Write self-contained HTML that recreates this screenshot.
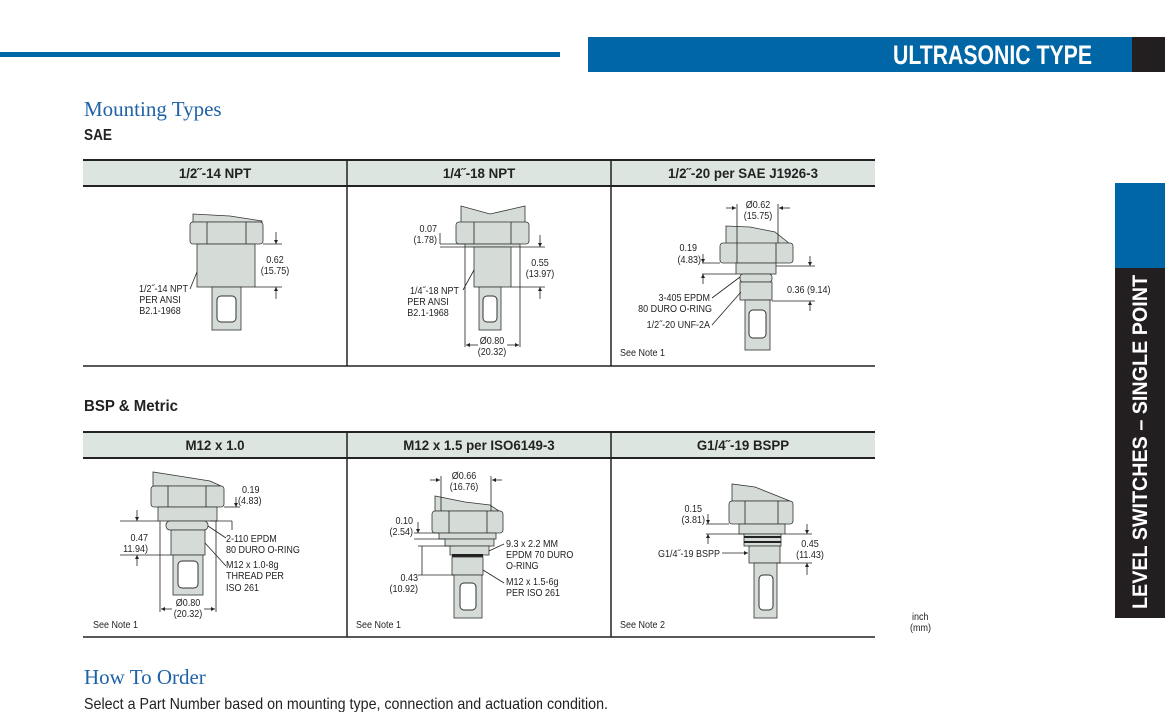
<!DOCTYPE html>
<html><head><meta charset="utf-8"><style>
html,body{margin:0;padding:0;background:#fff;width:1165px;height:712px;overflow:hidden}
svg{display:block}
.n{font-family:"Liberation Sans Narrow","Liberation Sans",sans-serif}
.s{font-family:"Liberation Sans Narrow","Liberation Sans",sans-serif;font-size:10px;fill:#222}
.h{font-family:"Liberation Sans Narrow","Liberation Sans",sans-serif;font-size:14px;font-weight:bold;fill:#222}
.s,.h{transform-box:fill-box;transform-origin:left center;transform:scaleX(.9)}
.h{transform:scaleX(.95)}
text[text-anchor="end"]{transform-origin:right center}
text[text-anchor="middle"]{transform-origin:center center}
.p{fill:#d5dbd7;stroke:#333;stroke-width:0.8}
.l{stroke:#222;stroke-width:0.8;fill:none}
</style></head><body>
<svg width="1165" height="712" viewBox="0 0 1165 712" xmlns="http://www.w3.org/2000/svg">
<defs><marker id="a" viewBox="0 0 6 6" refX="6" refY="3" markerWidth="5" markerHeight="5" orient="auto"><path d="M0,0L6,3L0,6z" fill="#222"/></marker></defs>
<!-- header -->
<rect x="0" y="52" width="560" height="5" fill="#0066a6"/>
<rect x="588" y="37" width="545" height="35" fill="#0066a6"/>
<rect x="1132" y="37" width="33" height="35" fill="#231f20"/>
<text x="893" y="64" class="n" font-size="27" font-weight="bold" fill="#fff" textLength="199" lengthAdjust="spacingAndGlyphs">ULTRASONIC TYPE</text>
<!-- side tab -->
<rect x="1115" y="183" width="50" height="85" fill="#0066a6"/>
<rect x="1115" y="268" width="50" height="350" fill="#231f20"/>
<text transform="translate(1140,609) rotate(-90)" class="n" font-size="21" font-weight="bold" fill="#fff" dy="7" textLength="334" lengthAdjust="spacingAndGlyphs">LEVEL SWITCHES – SINGLE POINT</text>
<!-- titles -->
<text x="84" y="116" font-family="Liberation Serif,serif" font-size="21" fill="#1f62a8">Mounting Types</text>
<text x="84" y="140" class="n" font-size="16" font-weight="bold" fill="#222" textLength="28" lengthAdjust="spacingAndGlyphs">SAE</text>
<text x="84" y="411" class="n" font-size="16" font-weight="bold" fill="#222" textLength="94" lengthAdjust="spacingAndGlyphs">BSP &amp; Metric</text>
<text x="84" y="684" font-family="Liberation Serif,serif" font-size="21" fill="#1f62a8">How To Order</text>
<text x="84" y="709" class="n" font-size="16" fill="#222" textLength="524" lengthAdjust="spacingAndGlyphs">Select a Part Number based on mounting type, connection and actuation condition.</text>
<text x="912" y="620" class="s" font-size="9">inch</text>
<text x="910" y="631" class="s" font-size="9">(mm)</text>
<!-- table 1 -->
<rect x="83" y="160" width="792" height="26" fill="#dde5e0"/>
<line x1="83" y1="160" x2="875" y2="160" stroke="#222" stroke-width="2"/>
<line x1="83" y1="186" x2="875" y2="186" stroke="#222" stroke-width="2"/>
<line x1="83" y1="366" x2="875" y2="366" stroke="#222" stroke-width="1.5"/>
<line x1="347" y1="160" x2="347" y2="366" stroke="#222" stroke-width="1.5"/>
<line x1="611" y1="160" x2="611" y2="366" stroke="#222" stroke-width="1.5"/>
<text x="215" y="178" text-anchor="middle" class="h">1/2˝-14 NPT</text>
<text x="479" y="178" text-anchor="middle" class="h">1/4˝-18 NPT</text>
<text x="743" y="178" text-anchor="middle" class="h">1/2˝-20 per SAE J1926-3</text>
<!-- table 2 -->
<rect x="83" y="432" width="792" height="26" fill="#dde5e0"/>
<line x1="83" y1="432" x2="875" y2="432" stroke="#222" stroke-width="2"/>
<line x1="83" y1="458" x2="875" y2="458" stroke="#222" stroke-width="2"/>
<line x1="83" y1="637" x2="875" y2="637" stroke="#222" stroke-width="1.5"/>
<line x1="347" y1="432" x2="347" y2="637" stroke="#222" stroke-width="1.5"/>
<line x1="611" y1="432" x2="611" y2="637" stroke="#222" stroke-width="1.5"/>
<text x="215" y="450" text-anchor="middle" class="h">M12 x 1.0</text>
<text x="479" y="450" text-anchor="middle" class="h">M12 x 1.5 per ISO6149-3</text>
<text x="743" y="450" text-anchor="middle" class="h">G1/4˝-19 BSPP</text>

<!-- cell 1 -->
<path class="p" d="M193,222 L193,214 L230,216 L262,221 L262,222z"/>
<rect class="p" x="190" y="222" width="73" height="22" rx="3"/>
<line class="l" x1="207" y1="222" x2="207" y2="244"/><line class="l" x1="246" y1="222" x2="246" y2="244"/>
<rect class="p" x="197" y="244" width="58" height="43"/>
<rect class="p" x="212" y="287" width="29" height="43"/>
<rect x="217" y="296" width="19" height="26" rx="4" fill="#fff" stroke="#333"/>
<line class="l" x1="263" y1="244" x2="282" y2="244"/><line class="l" x1="255" y1="287" x2="282" y2="287"/>
<line class="l" x1="276" y1="232" x2="276" y2="244" marker-end="url(#a)"/><line class="l" x1="276" y1="299" x2="276" y2="287" marker-end="url(#a)"/>
<text x="275" y="263" text-anchor="middle" class="s">0.62</text><text x="275" y="274" text-anchor="middle" class="s">(15.75)</text>
<text x="188" y="292" text-anchor="end" class="s">1/2˝-14 NPT</text>
<text x="160" y="303" text-anchor="middle" class="s">PER ANSI</text><text x="160" y="314" text-anchor="middle" class="s">B2.1-1968</text>
<line class="l" x1="190" y1="289" x2="197" y2="272"/>

<!-- cell 2 -->
<path class="p" d="M461,223 L461,206 L490,214 L525,206 L525,223z"/>
<rect class="p" x="456" y="222" width="73" height="22" rx="3"/>
<line class="l" x1="474" y1="222" x2="474" y2="244"/><line class="l" x1="511" y1="222" x2="511" y2="244"/>
<rect class="p" x="465" y="244" width="55" height="3"/>
<rect class="p" x="474" y="247" width="37" height="40"/>
<rect class="p" x="479" y="287" width="22" height="43"/>
<rect x="483" y="296" width="14" height="26" rx="4" fill="#fff" stroke="#333"/>
<line class="l" x1="440" y1="244" x2="465" y2="244"/><line class="l" x1="440" y1="247" x2="465" y2="247"/>
<line class="l" x1="440" y1="233" x2="440" y2="244"/>
<text x="437" y="232" text-anchor="end" class="s">0.07</text><text x="437" y="243" text-anchor="end" class="s">(1.78)</text>
<line class="l" x1="520" y1="247" x2="545" y2="247"/><line class="l" x1="511" y1="287" x2="545" y2="287"/>
<line class="l" x1="540" y1="235" x2="540" y2="247" marker-end="url(#a)"/><line class="l" x1="540" y1="299" x2="540" y2="287" marker-end="url(#a)"/>
<text x="540" y="266" text-anchor="middle" class="s">0.55</text><text x="540" y="277" text-anchor="middle" class="s">(13.97)</text>
<text x="459" y="294" text-anchor="end" class="s">1/4˝-18 NPT</text>
<text x="428" y="305" text-anchor="middle" class="s">PER ANSI</text><text x="428" y="316" text-anchor="middle" class="s">B2.1-1968</text>
<line class="l" x1="463" y1="290" x2="474" y2="270"/>
<line class="l" x1="465" y1="247" x2="465" y2="347"/><line class="l" x1="520" y1="247" x2="520" y2="347"/>
<line class="l" x1="478" y1="345" x2="466" y2="345" marker-end="url(#a)"/><line class="l" x1="507" y1="345" x2="519" y2="345" marker-end="url(#a)"/>
<text x="492" y="344" text-anchor="middle" class="s">Ø0.80</text><text x="492" y="355" text-anchor="middle" class="s">(20.32)</text>

<!-- cell 3 -->
<path class="p" d="M726,244 L726,226 L750,227 L775,232 L790,244z"/>
<rect class="p" x="720" y="243" width="73" height="20" rx="3"/>
<line class="l" x1="737" y1="243" x2="737" y2="263"/><line class="l" x1="776" y1="243" x2="776" y2="263"/>
<rect class="p" x="736" y="263" width="40" height="11"/>
<rect class="p" x="740" y="274" width="32" height="8" rx="3"/>
<rect class="p" x="740" y="282" width="32" height="18"/>
<rect class="p" x="745" y="300" width="25" height="50"/>
<rect x="749" y="310" width="17" height="28" rx="4" fill="#fff" stroke="#333"/>
<line class="l" x1="737" y1="204" x2="737" y2="243"/><line class="l" x1="778" y1="204" x2="778" y2="243"/>
<line class="l" x1="726" y1="208" x2="736" y2="208" marker-end="url(#a)"/><line class="l" x1="790" y1="208" x2="779" y2="208" marker-end="url(#a)"/>
<text x="758" y="208" text-anchor="middle" class="s">Ø0.62</text><text x="758" y="219" text-anchor="middle" class="s">(15.75)</text>
<text x="697" y="251" text-anchor="end" class="s">0.19</text><text x="701" y="263" text-anchor="end" class="s">(4.83)</text>
<line class="l" x1="702" y1="263" x2="720" y2="263"/><line class="l" x1="702" y1="274" x2="736" y2="274"/>
<line class="l" x1="703" y1="254" x2="703" y2="263" marker-end="url(#a)"/><line class="l" x1="703" y1="284" x2="703" y2="274" marker-end="url(#a)"/>
<line class="l" x1="776" y1="266" x2="815" y2="266"/><line class="l" x1="772" y1="301" x2="815" y2="301"/>
<line class="l" x1="810" y1="256" x2="810" y2="266" marker-end="url(#a)"/><line class="l" x1="810" y1="311" x2="810" y2="301" marker-end="url(#a)"/>
<text x="787" y="293" class="s">0.36 (9.14)</text>
<text x="710" y="301" text-anchor="end" class="s">3-405 EPDM</text><text x="712" y="312" text-anchor="end" class="s">80 DURO O-RING</text>
<text x="710" y="328" text-anchor="end" class="s">1/2˝-20 UNF-2A</text>
<line class="l" x1="712" y1="298" x2="740" y2="277"/><line class="l" x1="712" y1="325" x2="741" y2="292"/>
<text x="620" y="356" class="s" font-size="11">See Note 1</text>

<!-- row2 cell1 -->
<path class="p" d="M153,486 L153,472 L185,477 L210,481 L221,486z"/>
<rect class="p" x="151" y="486" width="73" height="21" rx="3"/>
<line class="l" x1="168" y1="486" x2="168" y2="507"/><line class="l" x1="206" y1="486" x2="206" y2="507"/>
<rect class="p" x="158" y="507" width="59" height="14"/>
<rect class="p" x="166" y="521" width="42" height="9" rx="4"/>
<rect class="p" x="171" y="530" width="34" height="25"/>
<rect class="p" x="173" y="555" width="30" height="40"/>
<rect x="178" y="561" width="20" height="27" rx="4" fill="#fff" stroke="#333"/>
<text x="242" y="493" class="s">0.19</text><text x="238" y="504" class="s">(4.83)</text>
<line class="l" x1="224" y1="507" x2="240" y2="507"/><line class="l" x1="236" y1="497" x2="236" y2="507" marker-end="url(#a)"/>
<line class="l" x1="120" y1="521" x2="158" y2="521"/><line class="l" x1="120" y1="555" x2="171" y2="555"/>
<line class="l" x1="137" y1="510" x2="137" y2="521" marker-end="url(#a)"/><line class="l" x1="137" y1="566" x2="137" y2="555" marker-end="url(#a)"/>
<text x="148" y="541" text-anchor="end" class="s">0.47</text><text x="148" y="552" text-anchor="end" class="s">11.94)</text>
<line class="l" x1="210" y1="521" x2="232" y2="521"/><line class="l" x1="232" y1="521" x2="232" y2="530"/>
<line class="l" x1="226" y1="538" x2="208" y2="526"/>
<text x="226" y="542" class="s">2-110 EPDM</text><text x="226" y="553" class="s">80 DURO O-RING</text>
<line class="l" x1="226" y1="566" x2="205" y2="543"/>
<text x="226" y="568" class="s">M12 x 1.0-8g</text><text x="226" y="579" class="s">THREAD PER</text><text x="226" y="591" class="s">ISO 261</text>
<line class="l" x1="160" y1="521" x2="160" y2="612"/><line class="l" x1="216" y1="521" x2="216" y2="612"/>
<line class="l" x1="172" y1="609" x2="161" y2="609" marker-end="url(#a)"/><line class="l" x1="204" y1="609" x2="215" y2="609" marker-end="url(#a)"/>
<text x="188" y="606" text-anchor="middle" class="s">Ø0.80</text><text x="188" y="617" text-anchor="middle" class="s">(20.32)</text>
<text x="93" y="628" class="s" font-size="11">See Note 1</text>

<!-- row2 cell2 -->
<path class="p" d="M435,511 L435,496 L465,502 L490,505 L499,511z"/>
<rect class="p" x="432" y="511" width="71" height="22" rx="3"/>
<line class="l" x1="449" y1="511" x2="449" y2="533"/><line class="l" x1="487" y1="511" x2="487" y2="533"/>
<rect class="p" x="439" y="533" width="57" height="6"/>
<rect class="p" x="445" y="539" width="49" height="7"/>
<rect class="p" x="450" y="546" width="39" height="9"/>
<rect x="452" y="554" width="31" height="3" fill="#222"/>
<rect class="p" x="452" y="557" width="31" height="18"/>
<rect class="p" x="454" y="575" width="28" height="43"/>
<rect x="460" y="583" width="16" height="27" rx="4" fill="#fff" stroke="#333"/>
<line class="l" x1="441" y1="476" x2="441" y2="511"/><line class="l" x1="491" y1="476" x2="491" y2="511"/>
<line class="l" x1="430" y1="480" x2="440" y2="480" marker-end="url(#a)"/><line class="l" x1="502" y1="480" x2="492" y2="480" marker-end="url(#a)"/>
<text x="464" y="479" text-anchor="middle" class="s">Ø0.66</text><text x="464" y="490" text-anchor="middle" class="s">(16.76)</text>
<text x="413" y="524" text-anchor="end" class="s">0.10</text><text x="413" y="535" text-anchor="end" class="s">(2.54)</text>
<line class="l" x1="414" y1="533" x2="439" y2="533"/><line class="l" x1="414" y1="539" x2="445" y2="539"/>
<line class="l" x1="418" y1="522" x2="418" y2="533" marker-end="url(#a)"/>
<line class="l" x1="418" y1="546" x2="450" y2="546"/><line class="l" x1="418" y1="575" x2="454" y2="575"/>
<line class="l" x1="422" y1="546" x2="422" y2="575"/>
<text x="418" y="581" text-anchor="end" class="s">0.43</text><text x="418" y="592" text-anchor="end" class="s">(10.92)</text>
<line class="l" x1="504" y1="544" x2="489" y2="551"/>
<text x="506" y="547" class="s">9.3 x 2.2 MM</text><text x="506" y="558" class="s">EPDM 70 DURO</text><text x="506" y="569" class="s">O-RING</text>
<line class="l" x1="504" y1="583" x2="483" y2="570"/>
<text x="506" y="585" class="s">M12 x 1.5-6g</text><text x="506" y="596" class="s">PER ISO 261</text>
<text x="356" y="628" class="s" font-size="11">See Note 1</text>

<!-- row2 cell3 -->
<path class="p" d="M732,501 L732,484 L755,487 L775,495 L790,501z"/>
<rect class="p" x="729" y="501" width="64" height="23" rx="3"/>
<line class="l" x1="745" y1="501" x2="745" y2="524"/><line class="l" x1="778" y1="501" x2="778" y2="524"/>
<rect class="p" x="739" y="524" width="46" height="10"/>
<rect class="p" x="744" y="534" width="37" height="12"/>
<rect x="744" y="536" width="37" height="2" fill="#222"/><rect x="744" y="541" width="37" height="2" fill="#222"/>
<rect class="p" x="749" y="546" width="31" height="17"/>
<rect class="p" x="754" y="563" width="23" height="55"/>
<rect x="759" y="575" width="14" height="35" rx="4" fill="#fff" stroke="#333"/>
<text x="702" y="512" text-anchor="end" class="s">0.15</text><text x="705" y="523" text-anchor="end" class="s">(3.81)</text>
<line class="l" x1="706" y1="524" x2="729" y2="524"/><line class="l" x1="706" y1="534" x2="744" y2="534"/>
<line class="l" x1="708" y1="514" x2="708" y2="524" marker-end="url(#a)"/><line class="l" x1="708" y1="544" x2="708" y2="534" marker-end="url(#a)"/>
<line class="l" x1="785" y1="534" x2="812" y2="534"/><line class="l" x1="777" y1="563" x2="812" y2="563"/>
<line class="l" x1="807" y1="524" x2="807" y2="534" marker-end="url(#a)"/><line class="l" x1="807" y1="575" x2="807" y2="563" marker-end="url(#a)"/>
<text x="810" y="547" text-anchor="middle" class="s">0.45</text><text x="810" y="558" text-anchor="middle" class="s">(11.43)</text>
<text x="720" y="557" text-anchor="end" class="s">G1/4˝-19 BSPP</text>
<line class="l" x1="722" y1="553" x2="748" y2="553" marker-end="url(#a)"/>
<text x="620" y="628" class="s" font-size="11">See Note 2</text>
</svg>
</body></html>
